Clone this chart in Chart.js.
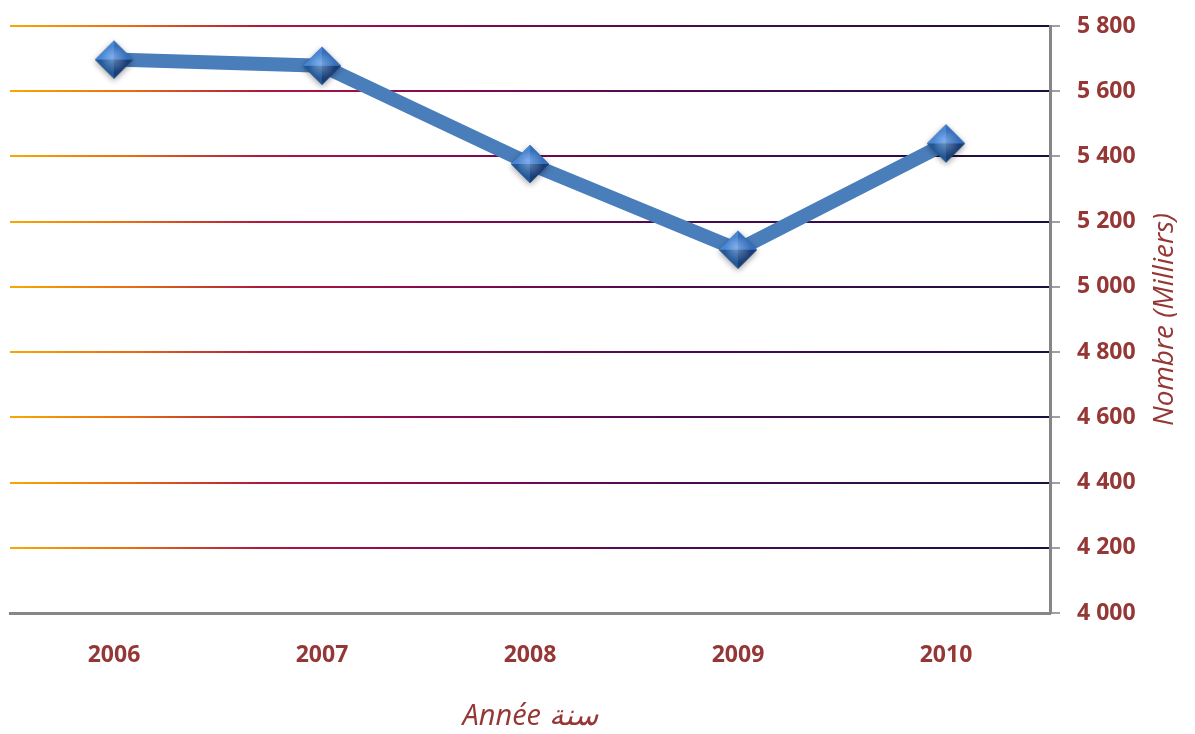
<!DOCTYPE html>
<html>
<head>
<meta charset="utf-8">
<script src="https://cdn.jsdelivr.net/npm/chart.js@4.4.1/dist/chart.umd.min.js"></script>
<style>
  html, body { margin: 0; padding: 0; background: #fff; }
  #wrap { width: 1195px; height: 734px; }
</style>
</head>
<body>
<div id="wrap"><canvas id="grafico" width="1195" height="734"></canvas></div>
<script>
// Dados
const anos = ['2006', '2007', '2008', '2009', '2010'];
const valores = [5697, 5678, 5377, 5114, 5440];
const eixoY = { min: 4000, max: 5800, passo: 200 };
const tituloY = 'Nombre (Milliers)';
const tituloX = 'Année سنة';

const corTexto = '#953735';
const fonte = "'Open Sans', 'DejaVu Sans', sans-serif";

// Marcador em losango com aspecto 3D
function criarLosango(r) {
    const tam = r * 2 + 12;
    const c = document.createElement('canvas');
    c.width = tam; c.height = tam;
    const g = c.getContext('2d');
    const cx = tam / 2, cy = tam / 2;
    const topo = [cx, cy - r], dir = [cx + r, cy], base = [cx, cy + r], esq = [cx - r, cy];

    g.save();
    g.shadowColor = 'rgba(0,0,0,0.4)';
    g.shadowBlur = 6;
    g.shadowOffsetY = 2;
    g.beginPath();
    g.moveTo(...topo); g.lineTo(...dir); g.lineTo(...base); g.lineTo(...esq); g.closePath();
    g.fillStyle = '#25569a';
    g.fill();
    g.restore();

    const facetas = [
        [topo, esq, '#4a86d3'],
        [topo, dir, '#3670bc'],
        [esq, base, '#235896'],
        [dir, base, '#193d74']
    ];
    facetas.forEach(f => {
        g.beginPath();
        g.moveTo(cx, cy); g.lineTo(...f[0]); g.lineTo(...f[1]); g.closePath();
        g.fillStyle = f[2];
        g.fill();
    });
    // brilho central
    const brilho = g.createRadialGradient(cx - 2, cy - 3, 0, cx, cy, r * 0.7);
    brilho.addColorStop(0, 'rgba(170,205,250,0.55)');
    brilho.addColorStop(1, 'rgba(170,205,250,0)');
    g.beginPath();
    g.moveTo(...topo); g.lineTo(...dir); g.lineTo(...base); g.lineTo(...esq); g.closePath();
    g.fillStyle = brilho;
    g.fill();
    return c;
}
const losango = criarLosango(19);

// Gradiente das linhas de grade
function corGrade(context) {
    const chart = context.chart;
    const area = chart.chartArea;
    if (!area) return '#400a50';
    const grad = chart.ctx.createLinearGradient(area.left, 0, area.right, 0);
    grad.addColorStop(0, '#f8a800');
    grad.addColorStop(0.12, '#ea6a12');
    grad.addColorStop(0.24, '#b0183e');
    grad.addColorStop(0.4, '#8a0a50');
    grad.addColorStop(0.65, '#4a0a50');
    grad.addColorStop(1, '#1a1040');
    return grad;
}

// Título do eixo Y lido de baixo para cima (como no original)
const tituloVertical = {
    id: 'tituloVertical',
    afterDraw(chart) {
        const g = chart.ctx;
        const area = chart.chartArea;
        g.save();
        g.translate(1165, (area.top + area.bottom) / 2);
        g.rotate(-Math.PI / 2);
        g.font = "italic 28px " + fonte;
        g.fillStyle = corTexto;
        g.textAlign = 'center';
        g.textBaseline = 'middle';
        g.fillText(tituloY, 0, 0);
        g.restore();
    }
};

const ctx = document.getElementById('grafico').getContext('2d');
new Chart(ctx, {
    type: 'line',
    data: {
        labels: anos,
        datasets: [{
            data: valores,
            borderColor: '#4a7ebb',
            borderWidth: 14,
            tension: 0,
            pointStyle: losango,
            pointRadius: 20,
            pointHoverRadius: 20,
            clip: false
        }]
    },
    plugins: [tituloVertical],
    options: {
        responsive: false,
        animation: false,
        layout: { autoPadding: false, padding: { top: 26, left: 10, right: 0, bottom: 0 } },
        plugins: {
            legend: { display: false },
            tooltip: { enabled: false }
        },
        scales: {
            x: {
                offset: true,
                grid: { display: false, drawTicks: false },
                border: { display: true, color: '#868686', width: 3 },
                ticks: {
                    color: corTexto,
                    font: { family: fonte, size: 23, weight: 'bold' },
                    padding: 29
                },
                title: {
                    display: true,
                    text: tituloX,
                    color: corTexto,
                    font: { family: fonte, size: 29, style: 'italic' },
                    padding: { top: 22, bottom: 0 }
                },
                afterFit: s => {
                    s.height = 121;
                    s.paddingLeft = 0;
                    s.paddingRight = 0;
                }
            },
            y: {
                position: 'right',
                min: eixoY.min,
                max: eixoY.max,
                grid: {
                    color: corGrade,
                    lineWidth: 2,
                    tickColor: '#a0a0a0',
                    tickLength: 10,
                    drawOnChartArea: true
                },
                border: { display: true, color: '#868686', width: 3 },
                ticks: {
                    stepSize: eixoY.passo,
                    color: corTexto,
                    font: { family: fonte, size: 23, weight: 'bold' },
                    padding: 17,
                    callback: v => String(v).replace(/\B(?=(\d{3})+(?!\d))/g, ' ')
                },
                title: { display: false },
                afterFit: s => {
                    s.width = 145;
                    s.paddingTop = 0;
                    s.paddingBottom = 0;
                }
            }
        }
    }
});
</script>
</body>
</html>
